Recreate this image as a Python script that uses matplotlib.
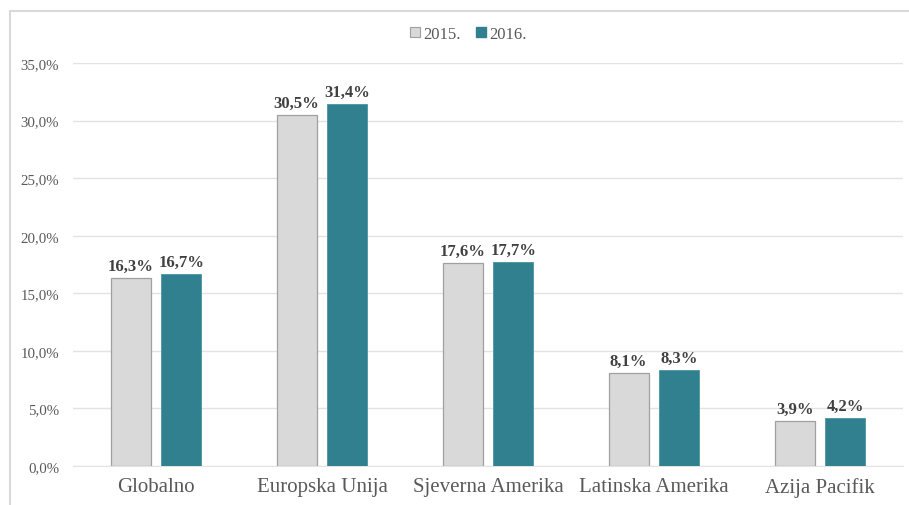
import numpy as np
import matplotlib.pyplot as plt
from matplotlib.lines import Line2D
from matplotlib.ticker import FuncFormatter

# data
regions = ['Globalno', 'Europska Unija', 'Sjeverna Amerika', 'Latinska Amerika', 'Azija Pacifik']
share_2015 = [16.3, 30.5, 17.6, 8.1, 3.9]
share_2016 = [16.7, 31.4, 17.7, 8.3, 4.2]
series_names = ['2015.', '2016.']

plt.rcParams['font.family'] = ['Liberation Serif', 'DejaVu Serif']

fig = plt.figure(figsize=(9.09, 5.06), dpi=100)
ax = fig.add_axes([0.0803, 0.0771, 0.9131, 0.7964])

x = np.arange(len(regions))
w = 0.24
off = 0.153
b1 = ax.bar(x - off, share_2015, w, color='#d9d9d9', edgecolor='#a0a0a0', linewidth=0.9,
            label=series_names[0], zorder=3)
b2 = ax.bar(x + off, share_2016, w, color='#31808f', edgecolor='#4a94a3', linewidth=0.6,
            label=series_names[1], zorder=3)

def pct(v):
    return f'{v:.1f}%'.replace('.', ',')

for bars, vals in ((b1, share_2015), (b2, share_2016)):
    for rect, v in zip(bars, vals):
        ax.annotate(pct(v), (rect.get_x() + rect.get_width() / 2, v),
                    xytext=(0, 3), textcoords='offset points', ha='center', va='bottom',
                    fontsize=12, fontweight='bold', color='#404040')

ax.set_xlim(-0.5, len(regions) - 0.5)
ax.set_ylim(0, 35)
ax.set_yticks(np.arange(0, 36, 5))
ax.yaxis.set_major_formatter(FuncFormatter(lambda v, p: pct(v)))
ax.set_xticks(x)
ax.set_xticklabels(regions, fontsize=15, color='#595959')
ax.tick_params(axis='y', labelsize=10.7, labelcolor='#595959', length=0, pad=10)
ax.tick_params(axis='x', length=0, pad=8)
ax.grid(axis='y', color='#e3e3e3', linewidth=1, zorder=0)
for s in ('top', 'right', 'left'):
    ax.spines[s].set_visible(False)
ax.spines['bottom'].set_color('#e3e3e3')

handles = [plt.Rectangle((0, 0), 1, 1, facecolor='#d9d9d9', edgecolor='#a0a0a0', linewidth=0.8),
           plt.Rectangle((0, 0), 1, 1, facecolor='#31808f', edgecolor='#31808f')]
fig.legend(handles, series_names, loc='center', bbox_to_anchor=(0.515, 0.931), ncol=2,
           frameon=False, fontsize=12, handlelength=0.6, handleheight=0.6,
           handletextpad=0.2, columnspacing=0.9, labelcolor='#595959')

# outer chart frame (left and top edges visible)
fig.add_artist(Line2D([0.011, 0.011, 1.0], [0.0, 0.976, 0.976], transform=fig.transFigure,
                      color='#d9d9d9', linewidth=1.5))

fig.savefig('out.png', dpi=100)
